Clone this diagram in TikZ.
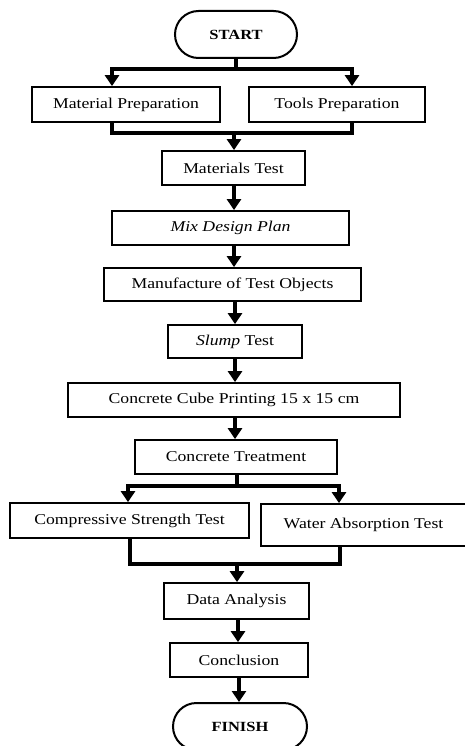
\documentclass[tikz,border=0pt]{standalone}
\usepackage{fontspec}
\setmainfont{Liberation Serif}[FakeStretch=1.18]
\usetikzlibrary{arrows.meta,shapes.misc}
\begin{document}
\begin{tikzpicture}[x=1pt,y=-1pt,
  box/.style={draw,line width=1.8pt,rectangle,inner sep=0pt,font=\fontsize{15}{18}\selectfont},
  term/.style={draw,line width=2pt,rounded rectangle,inner sep=0pt,font=\fontsize{14}{17}\selectfont\bfseries},
  ln/.style={line width=3.2pt},
  arr/.style={line width=3.2pt,-{Triangle[width=14pt,length=11pt]}}]
\useasboundingbox (0,0) rectangle (464,746);
\node[term,minimum width=122pt,minimum height=47pt] (start) at (236,34.5) {START};
\node[box,minimum width=188pt,minimum height=35pt] (mp) at (126,104.5) {Material Preparation};
\node[box,minimum width=176pt,minimum height=35pt] (tp) at (337,104.5) {Tools Preparation};
\node[box,minimum width=143pt,minimum height=34pt] (mt) at (233.5,168) {Materials Test};
\node[box,minimum width=237pt,minimum height=34pt] (mdp) at (230.5,228) {\itshape Mix Design Plan};
\node[box,minimum width=257pt,minimum height=33pt] (mto) at (232.5,284.5) {Manufacture of Test Objects};
\node[box,minimum width=134pt,minimum height=33pt] (st) at (235,341.5) {\textit{Slump} Test};
\node[box,minimum width=332pt,minimum height=34pt] (ccp) at (234,400) {Concrete Cube Printing 15 x 15 cm};
\node[box,minimum width=202pt,minimum height=34pt] (ct) at (236,457) {Concrete Treatment};
\node[box,minimum width=239pt,minimum height=35pt] (cst) at (129.5,520.5) {Compressive Strength Test};
\node[box,minimum width=205pt,minimum height=42pt] (wat) at (363.5,525) {Water Absorption Test};
\node[box,minimum width=145pt,minimum height=36pt] (da) at (236.5,601) {Data Analysis};
\node[box,minimum width=138pt,minimum height=34pt] (con) at (239,660) {Conclusion};
\node[term,minimum width=134pt,minimum height=47pt] (fin) at (240,726.5) {FINISH};
% split after start
\coordinate (jA) at (236,69);
\coordinate (jAL) at (112,69);
\coordinate (jAR) at (352,69);
\draw[ln] (start.south) -- (jA);
\draw[arr] (jA) -- (jAL) -- (jAL |- mp.north);
\draw[arr] (jA) -- (jAR) -- (jAR |- tp.north);
% merge to materials test
\coordinate (jB) at (234,133);
\coordinate (jBL) at (112,133);
\coordinate (jBR) at (352,133);
\draw[ln] (jBL |- mp.south) -- (jBL) -- (jBR) -- (jBR |- tp.south);
\draw[arr] (jB) -- (jB |- mt.north);
% chain
\draw[arr] (mt.south -| 234,0) -- (mdp.north -| 234,0);
\draw[arr] (mdp.south -| 234,0) -- (mto.north -| 234,0);
\draw[arr] (mto.south -| 235,0) -- (st.north -| 235,0);
\draw[arr] (st.south -| 235,0) -- (ccp.north -| 235,0);
\draw[arr] (ccp.south -| 235,0) -- (ct.north -| 235,0);
% split after treatment
\coordinate (jC) at (237,486);
\coordinate (jCL) at (128,486);
\coordinate (jCR) at (339,486);
\draw[ln] (ct.south -| jC) -- (jC);
\draw[arr] (jC) -- (jCL) -- (jCL |- cst.north);
\draw[arr] (jC) -- (jCR) -- (jCR |- wat.north);
% merge to data analysis
\coordinate (jD) at (237,564);
\coordinate (jDL) at (130,564);
\coordinate (jDR) at (340,564);
\draw[ln] (jDL |- cst.south) -- (jDL) -- (jDR) -- (jDR |- wat.south);
\draw[arr] (jD) -- (jD |- da.north);
\draw[arr] (da.south -| 238,0) -- (con.north -| 238,0);
\draw[arr] (con.south -| 239,0) -- (fin.north -| 239,0);
\end{tikzpicture}
\end{document}
